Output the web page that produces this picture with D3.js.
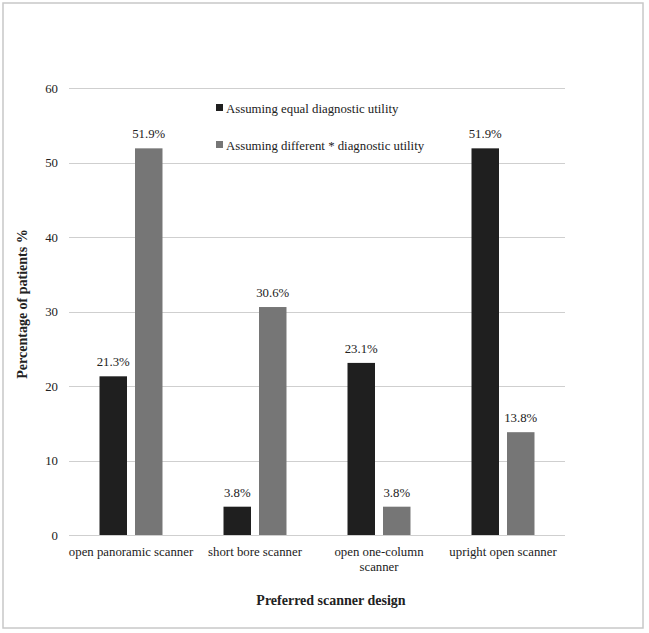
<!DOCTYPE html>
<html lang="en">
<head>
  <meta charset="utf-8">
  <title>Preferred scanner design</title>
  <script src="https://d3js.org/d3.v7.min.js"></script>
  <style>
    body { margin: 0; background: #fff; }
    svg { display: block; font-family: "Liberation Serif", "Times New Roman", serif; }
    .axis text { font-family: "Liberation Serif", "Times New Roman", serif; font-size: 12.8px; fill: #222; }
    .grid line { stroke: #cfcfcf; stroke-width: 1; shape-rendering: crispEdges; }
  </style>
</head>
<body>
<div id="chart"></div>
<script>
  // data
  var categories = ["open panoramic scanner", "short bore scanner", "open one-column scanner", "upright open scanner"];
  var seriesNames = ["Assuming equal diagnostic utility", "Assuming different * diagnostic utility"];
  var equalUtility = [21.3, 3.8, 23.1, 51.9];
  var differentUtility = [51.9, 30.6, 3.8, 13.8];
  var yTicks = [0, 10, 20, 30, 40, 50, 60];

  var colors = ["#1f1f1f", "#767676"];

  var W = 649, H = 633;
  var margin = {top: 88, right: 84, bottom: 98, left: 69},
      width = W - margin.left - margin.right,
      height = H - margin.top - margin.bottom;

  var svg = d3.select("#chart")
    .append("svg")
      .attr("width", W)
      .attr("height", H);

  // outer frame
  svg.append("rect")
    .attr("x", 3).attr("y", 3)
    .attr("width", 640).attr("height", 625)
    .attr("fill", "#fff")
    .attr("stroke", "#c8c8c8")
    .attr("stroke-width", 1.5);

  var g = svg.append("g")
    .attr("transform", "translate(" + margin.left + "," + margin.top + ")");

  var x0 = d3.scaleBand()
    .domain(categories)
    .range([0, width])
    .paddingInner(0.492)
    .paddingOuter(0.246);

  var x1 = d3.scaleBand()
    .domain(seriesNames)
    .range([0, x0.bandwidth()])
    .paddingInner(0.2254);

  var y = d3.scaleLinear()
    .domain([0, 60])
    .range([height, 0]);

  // Y axis with gridlines
  var yAxis = g.append("g")
    .attr("class", "axis grid")
    .call(d3.axisLeft(y).tickValues(yTicks).tickSize(-width).tickPadding(11));
  yAxis.select(".domain").remove();
  yAxis.selectAll("text").attr("x", -11);
  yAxis.selectAll(".tick line").attr("x1", 0).attr("x2", width);

  // X axis labels
  var xAxis = g.append("g")
    .attr("class", "axis")
    .attr("transform", "translate(0," + height + ")")
    .call(d3.axisBottom(x0).tickSize(0).tickPadding(0));
  xAxis.select(".domain").remove();
  xAxis.selectAll("text")
    .attr("y", 0)
    .attr("dy", 0)
    .call(wrap, 128);

  function wrap(sel, maxW) {
    sel.each(function() {
      var text = d3.select(this);
      var words = text.text().split(/\s+/);
      text.text(null);
      var line = [], lineNo = 0;
      var tspan = text.append("tspan").attr("x", 0).attr("y", 21);
      words.forEach(function(w) {
        line.push(w);
        tspan.text(line.join(" "));
        if (tspan.node().getComputedTextLength() > maxW && line.length > 1) {
          line.pop();
          tspan.text(line.join(" "));
          line = [w];
          lineNo++;
          tspan = text.append("tspan").attr("x", 0).attr("y", 21 + lineNo * 14.5).text(w);
        }
      });
    });
  }

  // bars
  var rows = categories.map(function(c, i) {
    return {cat: c, vals: [
      {s: seriesNames[0], v: equalUtility[i], k: 0},
      {s: seriesNames[1], v: differentUtility[i], k: 1}
    ]};
  });

  var groups = g.selectAll(".grp")
    .data(rows)
    .enter()
    .append("g")
      .attr("class", "grp")
      .attr("transform", function(d) { return "translate(" + x0(d.cat) + ",0)"; });

  groups.selectAll("rect")
    .data(function(d) { return d.vals; })
    .enter()
    .append("rect")
      .attr("x", function(d) { return x1(d.s); })
      .attr("y", function(d) { return y(d.v); })
      .attr("width", x1.bandwidth())
      .attr("height", function(d) { return height - y(d.v); })
      .attr("fill", function(d) { return colors[d.k]; });

  groups.selectAll(".val")
    .data(function(d) { return d.vals; })
    .enter()
    .append("text")
      .attr("class", "val")
      .attr("x", function(d) { return x1(d.s) + x1.bandwidth() / 2; })
      .attr("y", function(d) { return y(d.v) - 10; })
      .attr("text-anchor", "middle")
      .style("font-size", "12.8px")
      .style("fill", "#222")
      .text(function(d) { return d.v.toFixed(1) + "%"; });

  // legend
  var legend = svg.selectAll(".legend")
    .data(seriesNames)
    .enter()
    .append("g")
      .attr("class", "legend")
      .attr("transform", function(d, i) { return "translate(216," + (108 + i * 37) + ")"; });

  legend.append("rect")
    .attr("x", 0).attr("y", -4)
    .attr("width", 7).attr("height", 7)
    .attr("fill", function(d, i) { return colors[i]; });

  legend.append("text")
    .attr("x", 10)
    .attr("y", 4.5)
    .style("font-size", "12.8px")
    .style("fill", "#222")
    .text(function(d) { return d; });

  // axis titles
  svg.append("text")
    .attr("x", 331)
    .attr("y", 605)
    .attr("text-anchor", "middle")
    .style("font-size", "14px")
    .style("font-weight", "bold")
    .style("fill", "#222")
    .text("Preferred scanner design");

  svg.append("text")
    .attr("transform", "translate(27,304) rotate(-90)")
    .attr("text-anchor", "middle")
    .style("font-size", "14px")
    .style("font-weight", "bold")
    .style("fill", "#222")
    .text("Percentage of patients %");
</script>
</body>
</html>
